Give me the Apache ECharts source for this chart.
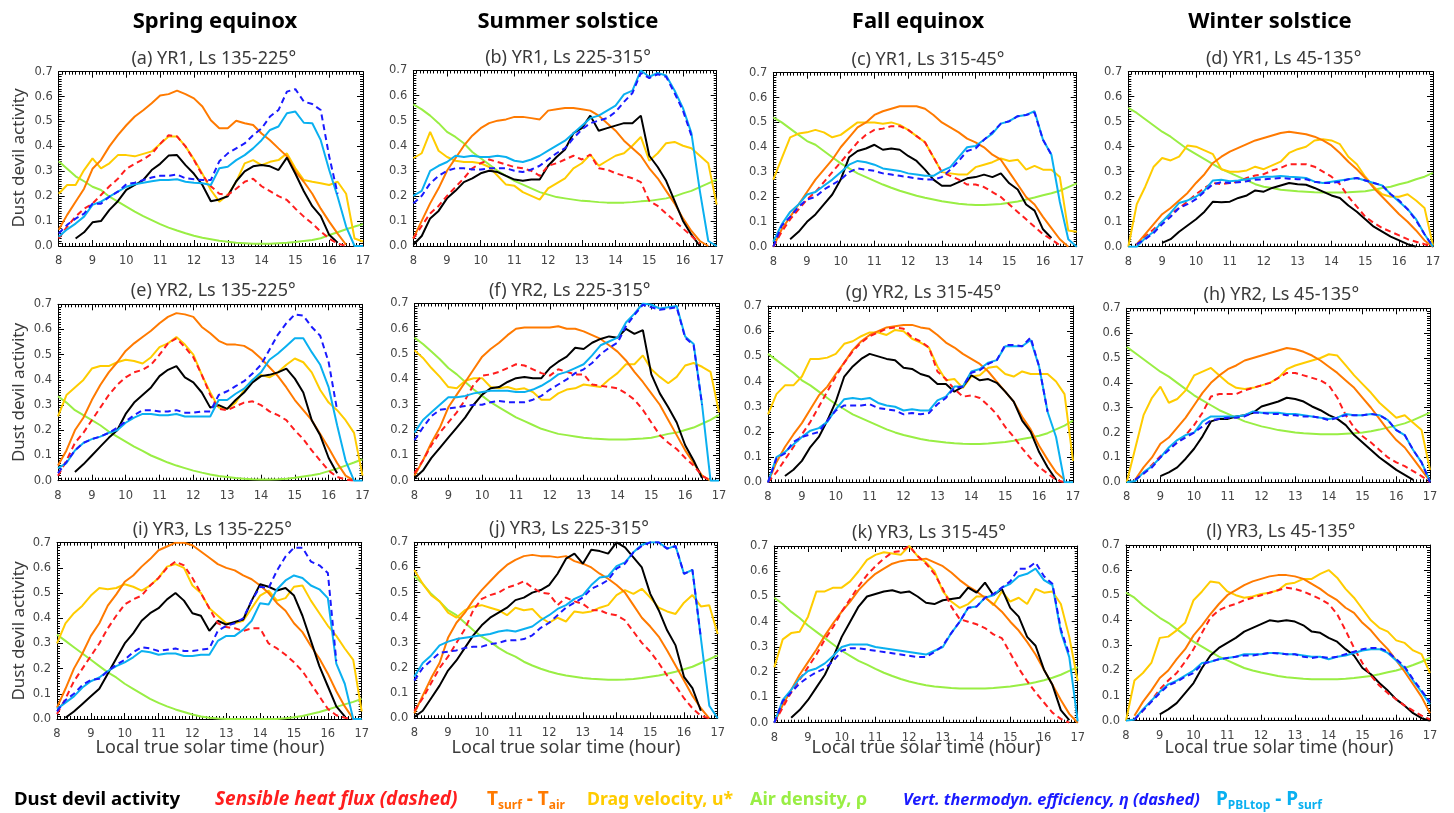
<!DOCTYPE html>
<html><head><meta charset="utf-8">
<script src="https://cdn.jsdelivr.net/npm/echarts@6/dist/echarts.min.js"></script>
<style>html,body{margin:0;padding:0;background:#fff}#c{width:1454px;height:813px}</style>
</head><body><div id="c"></div>
<script>
// ---------------- DATA ----------------
const hours = [8,8.25,8.5,8.75,9,9.25,9.5,9.75,10,10.25,10.5,10.75,11,11.25,11.5,11.75,12,12.25,12.5,12.75,13,13.25,13.5,13.75,14,14.25,14.5,14.75,15,15.25,15.5,15.75,16,16.25,16.5,16.75,17];
const xTicks = [8,9,10,11,12,13,14,15,16,17];
const yTicks = [0.0,0.1,0.2,0.3,0.4,0.5,0.6,0.7];
const columnTitles = ['Spring equinox','Summer solstice','Fall equinox','Winter solstice'];
const panelIds = ['a','b','c','d','e','f','g','h','i','j','k','l'];
const panelTitles = ['(a) YR1, Ls 135-225°','(b) YR1, Ls 225-315°','(c) YR1, Ls 315-45°','(d) YR1, Ls 45-135°',
  '(e) YR2, Ls 135-225°','(f) YR2, Ls 225-315°','(g) YR2, Ls 315-45°','(h) YR2, Ls 45-135°',
  '(i) YR3, Ls 135-225°','(j) YR3, Ls 225-315°','(k) YR3, Ls 315-45°','(l) YR3, Ls 45-135°'];

// panel a
const a_black = [null,null,0.03,0.055, 0.095,0.10,0.145,0.18, 0.225,0.245,0.265,0.305, 0.33,0.363,0.365,0.325, 0.29,0.245,0.18,0.187, 0.20,0.26,0.30,0.32, 0.325,0.32,0.305,0.355, 0.29,0.22,0.16,0.12, 0.045,0.013,null,null, null];
const a_red = [0.03,0.078,0.118,0.15, 0.17,0.205,0.24,0.27, 0.31,0.33,0.348,0.37, 0.41,0.445,0.44,0.40, 0.345,0.285,0.24,0.21, 0.205,0.23,0.258,0.27, 0.24,0.22,0.20,0.185, 0.15,0.118,0.09,0.058, 0.03,0.01,0.0,null, null];
const a_orange = [0.065,0.125,0.178,0.23, 0.31,0.345,0.40,0.445, 0.485,0.52,0.545,0.573, 0.604,0.61,0.624,0.61, 0.593,0.56,0.505,0.473, 0.473,0.503,0.493,0.486, 0.452,0.425,0.392,0.36, 0.30,0.258,0.21,0.15, 0.098,0.05,0.005,null, null];
const a_yellow = [0.21,0.245,0.245,0.305, 0.352,0.312,0.332,0.365, 0.365,0.36,0.37,0.38, 0.41,0.44,0.44,0.40, 0.348,0.29,0.225,0.178, 0.205,0.258,0.332,0.345, 0.325,0.338,0.345,0.372, 0.312,0.265,0.258,0.252, 0.245,0.258,0.21,0.03, 0.018];
const a_green = [0.34,0.31,0.28,0.26, 0.238,0.225,0.198,0.178, 0.158,0.138,0.12,0.104, 0.088,0.074,0.062,0.051, 0.041,0.033,0.027,0.021, 0.017,0.013,0.011,0.009, 0.009,0.009,0.011,0.013, 0.016,0.02,0.024,0.031, 0.044,0.055,0.067,0.078, 0.088];
const a_lblue = [0.037,0.067,0.09,0.118, 0.165,0.178,0.198,0.218, 0.238,0.248,0.254,0.26, 0.265,0.265,0.268,0.258, 0.254,0.252,0.245,0.312, 0.318,0.345,0.365,0.392, 0.425,0.466,0.48,0.533, 0.54,0.495,0.493,0.425, 0.305,0.198,0.078,0.0, 0.0];
const a_blue = [0.05,0.085,0.11,0.13, 0.17,0.17,0.198,0.218, 0.248,0.254,0.265,0.275, 0.282,0.282,0.287,0.272, 0.268,0.265,0.265,0.34, 0.372,0.392,0.412,0.445, 0.472,0.52,0.546,0.62, 0.63,0.58,0.57,0.546, 0.36,0.21,null,null, null];
// panel b
const b_black = [0.005,0.04,0.11,0.14, 0.19,0.22,0.255,0.27, 0.29,0.30,0.295,0.28, 0.265,0.26,0.265,0.265, 0.32,0.355,0.385,0.45, 0.47,0.52,0.46,0.47, 0.48,0.49,0.49,0.52, 0.36,0.315,0.26,0.18, 0.10,0.045,0.0,null, null];
const b_red = [0.03,0.08,0.13,0.16, 0.20,0.235,0.27,0.31, 0.33,0.345,0.335,0.325, 0.315,0.31,0.30,0.28, 0.32,0.33,0.345,0.36, 0.345,0.365,0.31,0.305, 0.29,0.28,0.27,0.255, 0.18,0.16,0.13,0.10, 0.07,0.04,0.01,null, null];
const b_orange = [0.03,0.10,0.17,0.23, 0.30,0.35,0.40,0.44, 0.47,0.49,0.50,0.505, 0.515,0.515,0.51,0.505, 0.54,0.545,0.55,0.55, 0.545,0.54,0.52,0.49, 0.46,0.42,0.39,0.36, 0.31,0.27,0.22,0.17, 0.11,0.06,0.02,0.0, null];
const b_yellow = [0.35,0.37,0.455,0.38, 0.355,0.34,0.335,0.335, 0.33,0.315,0.28,0.245, 0.24,0.215,0.20,0.185, 0.23,0.25,0.27,0.31, 0.33,0.365,0.32,0.34, 0.36,0.37,0.40,0.435, 0.34,0.37,0.41,0.415, 0.40,0.39,0.36,0.33, 0.165];
const b_green = [0.565,0.545,0.52,0.49, 0.455,0.435,0.41,0.375, 0.35,0.325,0.30,0.28, 0.26,0.245,0.23,0.215, 0.205,0.195,0.19,0.185, 0.18,0.178,0.175,0.173, 0.173,0.173,0.175,0.178, 0.18,0.185,0.19,0.198, 0.21,0.22,0.235,0.25, 0.265];
const b_lblue = [0.2,0.22,0.30,0.32, 0.335,0.36,0.355,0.36, 0.355,0.355,0.36,0.355, 0.34,0.335,0.345,0.36, 0.38,0.40,0.42,0.45, 0.48,0.51,0.52,0.54, 0.56,0.605,0.62,0.70, 0.675,0.69,0.68,0.62, 0.55,0.45,0.22,0.02, 0.0];
const b_blue = [0.17,0.2,0.25,0.28, 0.30,0.31,0.31,0.305, 0.305,0.31,0.31,0.31, 0.30,0.295,0.305,0.32, 0.345,0.37,0.39,0.43, 0.465,0.49,0.50,0.51, 0.535,0.575,0.61,0.69, 0.67,0.685,0.675,0.61, 0.54,0.44,null,null, null];
// panel c
const c_black = [null,null,0.03,0.06, 0.10,0.13,0.17,0.21, 0.27,0.36,0.385,0.395, 0.41,0.39,0.395,0.39, 0.365,0.345,0.31,0.27, 0.245,0.245,0.26,0.275, 0.28,0.29,0.28,0.295, 0.255,0.23,0.17,0.145, 0.07,0.035,null,null, null];
const c_red = [0.0,0.06,0.11,0.15, 0.19,0.22,0.26,0.30, 0.34,0.38,0.42,0.45, 0.47,0.475,0.485,0.485, 0.47,0.445,0.42,0.36, 0.30,0.285,0.27,0.25, 0.25,0.24,0.22,0.20, 0.17,0.14,0.11,0.08, 0.05,0.03,0.005,null, null];
const c_orange = [0.0,0.07,0.12,0.17, 0.22,0.27,0.31,0.35, 0.40,0.44,0.48,0.50, 0.53,0.545,0.555,0.565, 0.565,0.565,0.555,0.53, 0.50,0.48,0.46,0.435, 0.42,0.40,0.37,0.35, 0.30,0.25,0.20,0.17, 0.12,0.075,0.03,0.0, null];
const c_yellow = [0.27,0.355,0.44,0.455, 0.46,0.47,0.46,0.44, 0.45,0.475,0.50,0.50, 0.50,0.495,0.50,0.49, 0.47,0.445,0.42,0.36, 0.30,0.295,0.29,0.29, 0.32,0.33,0.34,0.355, 0.345,0.35,0.31,0.325, 0.31,0.31,0.28,0.065, 0.06];
const c_green = [0.52,0.50,0.475,0.45, 0.425,0.41,0.385,0.36, 0.335,0.315,0.295,0.28, 0.265,0.25,0.237,0.225, 0.215,0.205,0.197,0.19, 0.183,0.178,0.173,0.17, 0.168,0.168,0.17,0.172, 0.177,0.182,0.19,0.198, 0.207,0.215,0.225,0.24, 0.255];
const c_lblue = [0.02,0.09,0.14,0.17, 0.21,0.22,0.245,0.27, 0.30,0.33,0.345,0.34, 0.33,0.315,0.31,0.305, 0.295,0.29,0.285,0.285, 0.305,0.32,0.36,0.40, 0.405,0.43,0.455,0.495, 0.505,0.525,0.53,0.545, 0.43,0.37,0.18,0.03, 0.0];
const c_blue = [0.0,0.085,0.12,0.16, 0.19,0.20,0.23,0.25, 0.27,0.30,0.315,0.31, 0.305,0.295,0.29,0.285, 0.28,0.275,0.27,0.27, 0.28,0.31,0.345,0.385, 0.395,0.43,0.46,0.495, 0.505,0.525,0.53,0.54, 0.43,0.37,null,null, null];
// panel d
const d_black = [null,null,null,null, 0.015,0.03,0.06,0.085, 0.11,0.14,0.18,0.178, 0.18,0.195,0.205,0.225, 0.22,0.235,0.245,0.255, 0.25,0.248,0.235,0.22, 0.205,0.195,0.165,0.14, 0.11,0.08,0.06,0.04, 0.025,0.01,0.0,null, null];
const d_red = [null,0.005,0.04,0.07, 0.10,0.13,0.155,0.18, 0.21,0.235,0.255,0.25, 0.255,0.26,0.275,0.285, 0.29,0.305,0.315,0.33, 0.33,0.33,0.32,0.30, 0.28,0.25,0.20,0.16, 0.12,0.095,0.075,0.06, 0.045,0.03,0.02,0.01, 0.0];
const d_orange = [null,0.01,0.05,0.09, 0.13,0.155,0.185,0.215, 0.255,0.29,0.335,0.36, 0.38,0.395,0.41,0.425, 0.435,0.445,0.455,0.46, 0.455,0.45,0.44,0.425, 0.405,0.375,0.34,0.31, 0.275,0.235,0.20,0.165, 0.13,0.10,0.065,0.025, 0.0];
const d_yellow = [0.0,0.17,0.24,0.32, 0.355,0.345,0.36,0.405, 0.40,0.385,0.37,0.31, 0.30,0.30,0.305,0.32, 0.31,0.325,0.34,0.375, 0.39,0.40,0.425,0.43, 0.425,0.41,0.36,0.33, 0.28,0.24,0.21,0.20, 0.20,0.21,0.185,0.155, 0.005];
const d_green = [0.555,0.535,0.51,0.485, 0.46,0.44,0.415,0.39, 0.37,0.35,0.33,0.31, 0.295,0.28,0.265,0.25, 0.24,0.235,0.228,0.225, 0.222,0.22,0.218,0.217, 0.217,0.217,0.218,0.22, 0.222,0.228,0.235,0.24, 0.25,0.258,0.27,0.28, 0.295];
const d_lblue = [0.0,0.0,0.035,0.06, 0.10,0.135,0.175,0.185, 0.20,0.225,0.265,0.268, 0.262,0.265,0.27,0.275, 0.28,0.28,0.283,0.28, 0.278,0.275,0.26,0.255, 0.26,0.265,0.27,0.275, 0.265,0.255,0.245,0.21, 0.18,0.15,0.11,0.05, 0.0];
const d_blue = [null,0.01,0.03,0.055, 0.09,0.12,0.155,0.17, 0.19,0.22,0.25,0.258, 0.255,0.258,0.262,0.268, 0.27,0.272,0.275,0.272, 0.27,0.27,0.26,0.255, 0.255,0.26,0.27,0.275, 0.265,0.255,0.245,0.21, 0.185,0.15,0.105,0.05, 0.0];
// panel e
const e_black = [null,null,0.035,0.065, 0.10,0.135,0.17,0.20, 0.265,0.31,0.34,0.37, 0.415,0.44,0.455,0.41, 0.39,0.35,0.29,0.30, 0.285,0.32,0.35,0.39, 0.415,0.42,0.43,0.445, 0.405,0.35,0.24,0.18, 0.09,0.03,null,null, null];
const e_red = [0.02,0.08,0.15,0.19, 0.24,0.29,0.34,0.38, 0.41,0.43,0.44,0.46, 0.50,0.545,0.565,0.53, 0.49,0.42,0.34,0.285, 0.28,0.295,0.31,0.315, 0.30,0.275,0.26,0.24, 0.20,0.165,0.12,0.08, 0.04,0.015,0.005,0.0, null];
const e_orange = [0.06,0.12,0.20,0.25, 0.32,0.38,0.43,0.47, 0.515,0.545,0.57,0.595, 0.625,0.65,0.665,0.66, 0.65,0.61,0.585,0.555, 0.54,0.54,0.535,0.515, 0.485,0.45,0.415,0.37, 0.32,0.28,0.24,0.185, 0.13,0.07,0.02,0.0, null];
const e_yellow = [0.255,0.34,0.37,0.40, 0.445,0.455,0.455,0.47, 0.48,0.475,0.465,0.49, 0.53,0.545,0.57,0.54, 0.50,0.42,0.35,0.29, 0.285,0.31,0.36,0.40, 0.42,0.41,0.43,0.46, 0.485,0.47,0.43,0.36, 0.31,0.28,0.24,0.19, 0.02];
const e_green = [0.335,0.31,0.28,0.26, 0.24,0.22,0.195,0.175, 0.155,0.135,0.118,0.10, 0.086,0.072,0.06,0.05, 0.04,0.032,0.025,0.019, 0.015,0.011,0.008,0.006, 0.005,0.005,0.006,0.008, 0.012,0.017,0.022,0.028, 0.038,0.048,0.06,0.072, 0.085];
const e_lblue = [0.05,0.07,0.12,0.15, 0.165,0.175,0.19,0.20, 0.23,0.25,0.265,0.265, 0.26,0.26,0.265,0.255, 0.255,0.255,0.255,0.32, 0.32,0.345,0.365,0.40, 0.43,0.48,0.505,0.535, 0.565,0.565,0.51,0.46, 0.37,0.22,0.08,0.0, 0.0];
const e_blue = [0.03,0.075,0.12,0.15, 0.165,0.175,0.19,0.21, 0.235,0.26,0.28,0.28, 0.275,0.275,0.28,0.27, 0.27,0.275,0.275,0.34, 0.355,0.375,0.395,0.425, 0.46,0.52,0.58,0.625, 0.66,0.655,0.61,0.575, 0.47,0.28,null,null, null];
// panel f
const f_black = [0.01,0.04,0.09,0.13, 0.17,0.21,0.25,0.30, 0.34,0.365,0.37,0.39, 0.405,0.41,0.405,0.405, 0.445,0.47,0.49,0.525, 0.52,0.545,0.56,0.57, 0.565,0.60,0.58,0.595, 0.42,0.345,0.29,0.23, 0.14,0.08,0.01,null, null];
const f_red = [0.03,0.08,0.14,0.19, 0.23,0.27,0.32,0.38, 0.415,0.42,0.43,0.445, 0.46,0.455,0.44,0.425, 0.415,0.44,0.43,0.42, 0.42,0.38,0.375,0.37, 0.365,0.345,0.32,0.28, 0.23,0.18,0.15,0.125, 0.09,0.06,0.02,0.0, null];
const f_orange = [0.02,0.08,0.15,0.21, 0.29,0.34,0.39,0.44, 0.49,0.52,0.545,0.575, 0.60,0.605,0.605,0.605, 0.605,0.61,0.60,0.60, 0.59,0.575,0.56,0.535, 0.51,0.475,0.43,0.39, 0.345,0.30,0.24,0.18, 0.12,0.07,0.02,0.0, null];
const f_yellow = [0.515,0.485,0.445,0.41, 0.37,0.365,0.395,0.405, 0.405,0.37,0.365,0.37, 0.36,0.365,0.35,0.32, 0.32,0.345,0.36,0.365, 0.38,0.375,0.37,0.40, 0.425,0.46,0.46,0.495, 0.44,0.41,0.385,0.41, 0.455,0.465,0.45,0.43, 0.27];
const f_green = [0.565,0.54,0.51,0.48, 0.445,0.42,0.39,0.36, 0.335,0.31,0.29,0.27, 0.25,0.235,0.22,0.205, 0.195,0.185,0.18,0.175, 0.17,0.167,0.165,0.163, 0.163,0.163,0.165,0.167, 0.17,0.177,0.185,0.19, 0.20,0.21,0.225,0.24, 0.26];
const f_lblue = [0.19,0.24,0.27,0.30, 0.33,0.33,0.335,0.345, 0.35,0.355,0.355,0.355, 0.35,0.35,0.36,0.375, 0.395,0.42,0.43,0.445, 0.46,0.495,0.535,0.55, 0.565,0.625,0.66,0.70, 0.695,0.68,0.685,0.69, 0.57,0.54,0.30,0.0, 0.0];
const f_blue = [0.16,0.21,0.255,0.28, 0.285,0.29,0.295,0.30, 0.30,0.31,0.315,0.31, 0.31,0.31,0.32,0.335, 0.36,0.38,0.40,0.425, 0.44,0.465,0.50,0.525, 0.545,0.61,0.655,0.695, 0.685,0.675,0.68,0.685, 0.565,0.535,0.30,null, null];
// panel g
const g_black = [null,null,0.025,0.05, 0.085,0.14,0.18,0.245, 0.32,0.42,0.46,0.49, 0.51,0.50,0.49,0.485, 0.455,0.45,0.43,0.42, 0.39,0.39,0.36,0.38, 0.425,0.405,0.41,0.395, 0.36,0.32,0.245,0.20, 0.12,0.06,0.01,null, null];
const g_red = [0.0,0.04,0.09,0.14, 0.19,0.24,0.30,0.36, 0.42,0.475,0.52,0.555, 0.58,0.595,0.61,0.615, 0.61,0.575,0.56,0.535, 0.44,0.41,0.37,0.34, 0.345,0.335,0.305,0.27, 0.22,0.18,0.135,0.095, 0.06,0.035,0.01,0.0, null];
const g_orange = [0.0,0.08,0.14,0.19, 0.235,0.29,0.345,0.38, 0.43,0.475,0.525,0.56, 0.585,0.60,0.615,0.62, 0.625,0.625,0.615,0.61, 0.585,0.555,0.535,0.51, 0.49,0.47,0.44,0.40, 0.36,0.32,0.26,0.21, 0.145,0.09,0.04,0.01, null];
const g_yellow = [0.27,0.35,0.385,0.385, 0.42,0.49,0.49,0.495, 0.51,0.55,0.56,0.58, 0.595,0.595,0.585,0.605, 0.60,0.57,0.555,0.535, 0.46,0.405,0.41,0.375, 0.42,0.425,0.455,0.46, 0.43,0.42,0.44,0.43, 0.43,0.43,0.40,0.35, 0.085];
const g_green = [0.51,0.485,0.46,0.435, 0.405,0.385,0.36,0.335, 0.31,0.29,0.27,0.255, 0.24,0.225,0.21,0.198, 0.188,0.18,0.172,0.166, 0.162,0.158,0.155,0.153, 0.152,0.152,0.154,0.157, 0.16,0.165,0.172,0.178, 0.185,0.195,0.21,0.225, 0.245];
const g_lblue = [0.0,0.10,0.12,0.15, 0.18,0.205,0.215,0.24, 0.29,0.33,0.335,0.33, 0.335,0.315,0.305,0.30, 0.285,0.29,0.285,0.285, 0.325,0.34,0.38,0.38, 0.44,0.45,0.475,0.485, 0.54,0.54,0.54,0.565, 0.46,0.28,0.18,0.0, 0.0];
const g_blue = [0.0,0.095,0.115,0.16, 0.18,0.19,0.20,0.245, 0.285,0.305,0.305,0.305, 0.31,0.295,0.29,0.285, 0.27,0.275,0.27,0.275, 0.31,0.335,0.375,0.38, 0.435,0.445,0.47,0.485, 0.545,0.545,0.54,0.575, 0.46,0.28,null,null, null];
// panel h
const h_black = [null,null,null,null, 0.025,0.04,0.06,0.095, 0.135,0.185,0.245,0.255, 0.255,0.265,0.27,0.28, 0.305,0.315,0.325,0.34, 0.335,0.325,0.305,0.29, 0.27,0.255,0.23,0.19, 0.16,0.13,0.10,0.075, 0.05,0.03,0.01,null, null];
const h_red = [null,0.01,0.035,0.07, 0.105,0.135,0.16,0.19, 0.23,0.28,0.345,0.355, 0.355,0.355,0.37,0.38, 0.39,0.40,0.42,0.44, 0.44,0.43,0.42,0.41, 0.39,0.34,0.27,0.22, 0.185,0.16,0.13,0.10, 0.08,0.065,0.045,0.025, 0.0];
const h_orange = [null,0.01,0.06,0.10, 0.155,0.18,0.22,0.26, 0.31,0.36,0.40,0.43, 0.455,0.47,0.49,0.50, 0.51,0.52,0.53,0.54, 0.535,0.525,0.51,0.49, 0.465,0.44,0.41,0.38, 0.34,0.30,0.255,0.21, 0.17,0.14,0.095,0.05, 0.005];
const h_yellow = [0.0,0.135,0.27,0.34, 0.385,0.32,0.335,0.37, 0.43,0.445,0.46,0.43, 0.40,0.38,0.375,0.38, 0.39,0.40,0.42,0.455, 0.47,0.48,0.49,0.50, 0.515,0.51,0.47,0.43, 0.395,0.36,0.32,0.29, 0.26,0.27,0.24,0.21, 0.05];
const h_green = [0.545,0.52,0.495,0.47, 0.445,0.425,0.40,0.375, 0.35,0.33,0.31,0.29, 0.275,0.26,0.245,0.235, 0.225,0.218,0.21,0.205, 0.20,0.197,0.195,0.193, 0.193,0.193,0.195,0.197, 0.20,0.205,0.212,0.22, 0.228,0.237,0.25,0.265, 0.28];
const h_lblue = [0.0,0.005,0.04,0.065, 0.10,0.14,0.17,0.19, 0.20,0.245,0.265,0.265, 0.265,0.265,0.27,0.285, 0.28,0.28,0.28,0.275, 0.275,0.27,0.265,0.26, 0.255,0.26,0.275,0.27, 0.27,0.275,0.27,0.25, 0.21,0.19,0.13,0.08, 0.005];
const h_blue = [null,0.01,0.035,0.06, 0.10,0.13,0.16,0.18, 0.20,0.225,0.25,0.255, 0.26,0.26,0.265,0.28, 0.28,0.275,0.275,0.27, 0.27,0.265,0.265,0.26, 0.25,0.26,0.27,0.27, 0.27,0.275,0.27,0.25, 0.21,0.19,0.13,0.08, 0.0];
// panel i
const i_black = [null,0.005,0.03,0.06, 0.09,0.12,0.18,0.24, 0.30,0.34,0.39,0.42, 0.44,0.475,0.50,0.47, 0.42,0.41,0.35,0.39, 0.375,0.385,0.395,0.47, 0.535,0.525,0.51,0.52, 0.49,0.41,0.31,0.21, 0.13,0.05,0.01,null, null];
const i_red = [0.02,0.08,0.15,0.20, 0.25,0.30,0.36,0.41, 0.455,0.475,0.49,0.53, 0.56,0.60,0.625,0.61, 0.56,0.50,0.44,0.38, 0.365,0.36,0.35,0.36, 0.36,0.30,0.28,0.255, 0.225,0.19,0.14,0.09, 0.04,0.015,0.005,0.0, null];
const i_orange = [0.045,0.12,0.20,0.26, 0.33,0.38,0.45,0.495, 0.545,0.57,0.605,0.635, 0.67,0.685,0.70,0.70, 0.69,0.665,0.64,0.615, 0.60,0.59,0.57,0.555, 0.53,0.50,0.46,0.43, 0.38,0.345,0.29,0.24, 0.18,0.11,0.05,0.0, null];
const i_yellow = [0.30,0.38,0.42,0.45, 0.49,0.52,0.515,0.52, 0.535,0.525,0.51,0.53, 0.56,0.605,0.615,0.60, 0.53,0.50,0.44,0.41, 0.38,0.38,0.39,0.44, 0.49,0.51,0.47,0.48, 0.525,0.53,0.47,0.42, 0.37,0.33,0.28,0.235, 0.03];
const i_green = [0.335,0.31,0.285,0.26, 0.235,0.21,0.185,0.165, 0.14,0.12,0.10,0.08, 0.064,0.05,0.038,0.028, 0.018,0.01,0.005,0.002, 0.0,0.0,0.0,0.0, 0.0,0.0,0.0,0.003, 0.007,0.012,0.02,0.028, 0.038,0.048,0.058,0.068, 0.08];
const i_lblue = [0.04,0.065,0.09,0.125, 0.15,0.165,0.19,0.21, 0.225,0.245,0.27,0.265, 0.255,0.26,0.26,0.25, 0.25,0.255,0.255,0.31, 0.33,0.33,0.355,0.39, 0.46,0.455,0.515,0.55, 0.57,0.56,0.53,0.515, 0.48,0.22,0.14,0.0, 0.0];
const i_blue = [0.03,0.075,0.10,0.135, 0.155,0.16,0.19,0.215, 0.235,0.265,0.285,0.28, 0.27,0.275,0.28,0.27, 0.27,0.275,0.28,0.35, 0.37,0.38,0.40,0.47, 0.525,0.52,0.59,0.645, 0.68,0.68,0.625,0.61, 0.58,0.23,null,null, null];
// panel j
const j_black = [0.005,0.03,0.08,0.13, 0.19,0.23,0.28,0.33, 0.37,0.40,0.42,0.44, 0.47,0.48,0.50,0.51, 0.53,0.575,0.635,0.655, 0.615,0.67,0.665,0.655, 0.70,0.68,0.64,0.60, 0.495,0.43,0.35,0.29, 0.165,0.12,0.03,null, null];
const j_red = [0.03,0.08,0.14,0.20, 0.245,0.30,0.355,0.43, 0.475,0.49,0.50,0.52, 0.53,0.545,0.52,0.50, 0.495,0.45,0.48,0.465, 0.455,0.43,0.43,0.415, 0.41,0.39,0.345,0.30, 0.265,0.22,0.17,0.13, 0.08,0.04,0.01,0.0, null];
const j_orange = [0.02,0.09,0.16,0.22, 0.32,0.38,0.42,0.47, 0.51,0.545,0.58,0.61, 0.63,0.645,0.65,0.645, 0.645,0.64,0.645,0.625, 0.615,0.60,0.575,0.555, 0.53,0.50,0.45,0.40, 0.365,0.325,0.27,0.21, 0.15,0.09,0.04,0.0, null];
const j_yellow = [0.59,0.535,0.49,0.465, 0.42,0.40,0.43,0.445, 0.45,0.44,0.43,0.41, 0.44,0.43,0.435,0.40, 0.38,0.40,0.385,0.425, 0.42,0.425,0.44,0.45, 0.49,0.51,0.495,0.515, 0.48,0.44,0.425,0.415, 0.46,0.49,0.445,0.45, 0.335];
const j_green = [0.565,0.535,0.495,0.465, 0.43,0.41,0.38,0.35, 0.325,0.305,0.28,0.26, 0.245,0.225,0.21,0.197, 0.186,0.177,0.17,0.165, 0.16,0.157,0.155,0.153, 0.153,0.154,0.156,0.16, 0.165,0.17,0.177,0.185, 0.195,0.205,0.22,0.235, 0.25];
const j_lblue = [0.165,0.22,0.25,0.29, 0.305,0.315,0.32,0.325, 0.33,0.335,0.345,0.35, 0.345,0.355,0.365,0.39, 0.41,0.435,0.45,0.475, 0.49,0.53,0.56,0.565, 0.605,0.62,0.66,0.69, 0.70,0.70,0.675,0.685, 0.575,0.59,0.32,0.05, 0.0];
const j_blue = [0.15,0.2,0.23,0.26, 0.265,0.27,0.28,0.285, 0.285,0.295,0.30,0.31, 0.31,0.315,0.33,0.36, 0.38,0.41,0.44,0.46, 0.48,0.515,0.53,0.55, 0.595,0.615,0.66,0.685, 0.70,0.70,0.675,0.685, 0.575,0.59,0.32,null, null];
// panel k
const k_black = [null,null,0.02,0.05, 0.09,0.14,0.19,0.26, 0.34,0.40,0.46,0.50, 0.51,0.52,0.525,0.515, 0.52,0.50,0.475,0.47, 0.485,0.49,0.495,0.535, 0.515,0.555,0.505,0.53, 0.455,0.42,0.34,0.305, 0.21,0.15,0.05,0.01, null];
const k_red = [0.0,0.06,0.12,0.17, 0.22,0.27,0.33,0.38, 0.44,0.49,0.54,0.585, 0.62,0.65,0.675,0.68, 0.70,0.66,0.63,0.59, 0.53,0.46,0.41,0.40, 0.39,0.375,0.35,0.335, 0.275,0.215,0.165,0.12, 0.08,0.04,0.015,0.0, null];
const k_orange = [0.0,0.07,0.13,0.19, 0.24,0.29,0.345,0.395, 0.44,0.48,0.525,0.56, 0.59,0.61,0.63,0.64, 0.645,0.645,0.65,0.635, 0.62,0.595,0.565,0.54, 0.52,0.495,0.47,0.44, 0.40,0.365,0.32,0.27, 0.21,0.15,0.09,0.035, 0.0];
const k_yellow = [0.22,0.33,0.355,0.36, 0.42,0.52,0.52,0.535, 0.535,0.56,0.60,0.645, 0.665,0.675,0.67,0.665, 0.70,0.66,0.635,0.60, 0.52,0.48,0.455,0.47, 0.50,0.50,0.465,0.52, 0.48,0.495,0.47,0.53, 0.515,0.52,0.47,0.34, 0.165];
const k_green = [0.495,0.47,0.44,0.415, 0.385,0.36,0.335,0.31, 0.285,0.265,0.245,0.23, 0.213,0.198,0.185,0.173, 0.163,0.155,0.148,0.143, 0.14,0.137,0.135,0.135, 0.135,0.135,0.137,0.14, 0.143,0.148,0.153,0.16, 0.168,0.178,0.19,0.205, 0.22];
const k_lblue = [0.0,0.09,0.13,0.175, 0.205,0.215,0.235,0.265, 0.30,0.31,0.31,0.31, 0.30,0.295,0.29,0.285, 0.28,0.275,0.27,0.285, 0.30,0.355,0.40,0.455, 0.46,0.495,0.505,0.535, 0.55,0.58,0.59,0.61, 0.565,0.545,0.36,0.26, 0.005];
const k_blue = [0.0,0.085,0.12,0.155, 0.18,0.20,0.215,0.245, 0.285,0.295,0.295,0.29, 0.285,0.28,0.275,0.27, 0.265,0.26,0.26,0.28, 0.305,0.355,0.40,0.455, 0.46,0.495,0.51,0.535, 0.56,0.61,0.61,0.635, 0.58,0.55,0.37,0.27, null];
// panel l
const l_black = [null,null,null,null, 0.025,0.045,0.07,0.11, 0.15,0.21,0.26,0.29, 0.31,0.33,0.355,0.37, 0.385,0.40,0.395,0.40, 0.395,0.38,0.355,0.35, 0.33,0.315,0.285,0.26, 0.21,0.185,0.15,0.12, 0.085,0.06,0.03,0.01, 0.0];
const l_red = [null,0.005,0.04,0.08, 0.125,0.16,0.19,0.235, 0.285,0.35,0.41,0.44, 0.455,0.465,0.48,0.49, 0.50,0.51,0.52,0.53, 0.525,0.515,0.50,0.485, 0.465,0.425,0.36,0.29, 0.23,0.18,0.14,0.11, 0.085,0.06,0.04,0.02, 0.005];
const l_orange = [null,0.02,0.075,0.12, 0.17,0.20,0.245,0.285, 0.34,0.38,0.425,0.465, 0.50,0.52,0.54,0.555, 0.565,0.575,0.58,0.58, 0.575,0.565,0.545,0.525, 0.50,0.48,0.45,0.43, 0.39,0.36,0.32,0.285, 0.24,0.195,0.145,0.095, 0.03];
const l_yellow = [0.0,0.16,0.19,0.23, 0.33,0.335,0.36,0.39, 0.48,0.515,0.555,0.55, 0.515,0.50,0.49,0.495, 0.505,0.51,0.52,0.545, 0.55,0.565,0.565,0.585, 0.60,0.57,0.525,0.49, 0.445,0.40,0.37,0.355, 0.32,0.31,0.28,0.265, 0.19];
const l_green = [0.51,0.49,0.46,0.435, 0.41,0.39,0.365,0.34, 0.315,0.295,0.275,0.255, 0.24,0.225,0.21,0.2, 0.192,0.185,0.178,0.173, 0.17,0.167,0.165,0.165, 0.165,0.165,0.167,0.17, 0.174,0.178,0.185,0.193, 0.2,0.21,0.222,0.235, 0.25];
const l_lblue = [0.0,0.005,0.045,0.08, 0.115,0.145,0.16,0.18, 0.20,0.23,0.235,0.245, 0.25,0.255,0.265,0.265, 0.265,0.27,0.27,0.265, 0.265,0.26,0.255,0.255, 0.245,0.255,0.26,0.27, 0.28,0.285,0.285,0.27, 0.24,0.21,0.16,0.115, 0.065];
const l_blue = [null,0.005,0.04,0.075, 0.11,0.14,0.155,0.175, 0.19,0.225,0.235,0.245, 0.25,0.255,0.26,0.26, 0.265,0.27,0.268,0.265, 0.265,0.255,0.25,0.255, 0.25,0.255,0.265,0.275, 0.285,0.29,0.29,0.275, 0.245,0.215,0.165,0.12, 0.075];

const SERIES = {a_black,a_red,a_orange,a_yellow,a_green,a_lblue,a_blue,
 b_black,b_red,b_orange,b_yellow,b_green,b_lblue,b_blue,
 c_black,c_red,c_orange,c_yellow,c_green,c_lblue,c_blue,
 d_black,d_red,d_orange,d_yellow,d_green,d_lblue,d_blue,
 e_black,e_red,e_orange,e_yellow,e_green,e_lblue,e_blue,
 f_black,f_red,f_orange,f_yellow,f_green,f_lblue,f_blue,
 g_black,g_red,g_orange,g_yellow,g_green,g_lblue,g_blue,
 h_black,h_red,h_orange,h_yellow,h_green,h_lblue,h_blue,
 i_black,i_red,i_orange,i_yellow,i_green,i_lblue,i_blue,
 j_black,j_red,j_orange,j_yellow,j_green,j_lblue,j_blue,
 k_black,k_red,k_orange,k_yellow,k_green,k_lblue,k_blue,
 l_black,l_red,l_orange,l_yellow,l_green,l_lblue,l_blue};

// ---------------- STYLE / LAYOUT ----------------
const STY = {
  black:{color:'#000000', dash:false},
  orange:{color:'#FF7A00', dash:false},
  yellow:{color:'#FFCC00', dash:false},
  red:{color:'#FF1E1E', dash:true},
  green:{color:'#99EE44', dash:false},
  lblue:{color:'#0AB0F0', dash:false},
  blue:{color:'#1A1AFF', dash:true}
};
const DRAW_ORDER = ['green','yellow','orange','black','red','lblue','blue'];
// [left(8h), right(17h), top(0.7), bottom(0)]
const RECTS = [
 [58.7,363,71.7,246],[413.3,716.7,70.5,246],[773.3,1076.7,72.7,246.7],[1128.3,1433,71.7,246.7],
 [58,362.5,304.3,480.7],[414.5,719,303.5,480.7],[768,1073,306,482.3],[1126.7,1430,308.3,482.3],
 [57,361.7,542.7,719],[414.3,717.7,542.3,718.3],[774.3,1077.7,546,722.7],[1126,1430,545,720.7]
];
const FONT = 'Noto Sans, DejaVu Sans, sans-serif';
const TICKFONT = 'DejaVu Sans, Noto Sans, sans-serif';

const grids=[], xAxes=[], yAxes=[], series=[], graphics=[];

panelIds.forEach((id,p)=>{
  const [L,R,T,B] = RECTS[p];
  grids.push({left:L, top:T, width:R-L, height:B-T, containLabel:false, outerBoundsMode:'none', show:false});
  const tick = {show:true, inside:true, length:6, lineStyle:{color:'#000', width:1}};
  const minor = {show:true, splitNumber:10, length:3, lineStyle:{color:'#000', width:1}};
  const line = {show:true, onZero:false, lineStyle:{color:'#000', width:1}};
  const base = {type:'value', gridIndex:p, splitLine:{show:false}, minorSplitLine:{show:false}, axisLine:line, axisTick:tick, minorTick:minor, silent:true};
  xAxes.push(Object.assign({}, base, {position:'bottom', min:xTicks[0], max:xTicks[xTicks.length-1], interval:1,
     axisLabel:{show:true, color:'#454545', fontSize:11.5, fontFamily:TICKFONT, margin:9, showMinLabel:true, showMaxLabel:true}}));
  xAxes.push(Object.assign({}, base, {position:'top', min:xTicks[0], max:xTicks[xTicks.length-1], interval:1, axisLabel:{show:false}}));
  yAxes.push(Object.assign({}, base, {position:'left', min:yTicks[0], max:yTicks[yTicks.length-1], interval:0.1,
     axisLabel:{show:true, color:'#454545', fontSize:11.5, fontFamily:TICKFONT, margin:6, formatter:v=>v.toFixed(1), showMinLabel:true, showMaxLabel:true}}));
  yAxes.push(Object.assign({}, base, {position:'right', min:yTicks[0], max:yTicks[yTicks.length-1], interval:0.1, axisLabel:{show:false}}));

  DRAW_ORDER.forEach(key=>{
    const vals = SERIES[id+'_'+key];
    const data = [];
    hours.forEach((h,i)=>{ if(vals[i]!==null && vals[i]!==undefined) data.push([h, vals[i]]); });
    const st = STY[key];
    series.push({type:'line', xAxisIndex:p*2, yAxisIndex:p*2, data, showSymbol:false, symbol:'none',
      lineStyle:{color:st.color, width:2, type: st.dash ? [6,4] : 'solid'}, itemStyle:{color:st.color},
      animation:false, silent:true, clip:true, z:2});
  });

  graphics.push({type:'text', x:(L+R)/2+3, y:T-13, style:{text:panelTitles[p], font:'18px '+FONT, fill:'#3a3a3a', align:'center', verticalAlign:'middle'}});
});

// column titles
const colCenters = [215,568,918,1270];
columnTitles.forEach((t,c)=>graphics.push({type:'text', x:colCenters[c], y:22, style:{text:t, font:'bold 22px '+FONT, fill:'#000', align:'center', verticalAlign:'middle'}}));
// y-axis names (first column)
[158,392.5,631].forEach(cy=>graphics.push({type:'text', x:19, y:cy, rotation:Math.PI/2, style:{text:'Dust devil activity', font:'17px '+FONT, fill:'#3a3a3a', align:'center', verticalAlign:'middle'}}));
// x-axis names (bottom row)
[210,566,926,1279].forEach(cx=>graphics.push({type:'text', x:cx, y:748, style:{text:'Local true solar time (hour)', font:'18px '+FONT, fill:'#3a3a3a', align:'center', verticalAlign:'middle'}}));

// legend: each entry fitted into its horizontal span
const LEG_Y = 800;
const measureCtx = document.createElement('canvas').getContext('2d');
function fitSize(font, text, target, base){ measureCtx.font = font.replace('{s}', base+'px'); const w = measureCtx.measureText(text).width; return Math.min(base, base*target/w); }
const legendItems = [
  {x0:14, x1:180, text:'Dust devil activity', color:'#000000', italic:false},
  {x0:215, x1:462, text:'Sensible heat flux (dashed)', color:'#FF1E1E', italic:true},
  {x0:487, x1:573, rich:['T','surf',' - T','air'], color:'#FF7A00'},
  {x0:587, x1:733, text:'Drag velocity, u*', color:'#FFCC00', italic:false},
  {x0:750, x1:867, text:'Air density, ρ', color:'#99EE44', italic:false},
  {x0:903, x1:1200, text:'Vert. thermodyn. efficiency, η (dashed)', color:'#1A1AFF', italic:true},
  {x0:1216, x1:1340, rich:['P','PBLtop',' - P','surf'], color:'#0AB0F0'}
];
legendItems.forEach(it=>{
  if(it.rich){
    measureCtx.font = 'bold 19px '+FONT; const wm = measureCtx.measureText(it.rich[0]+it.rich[2]).width;
    measureCtx.font = 'bold 12px '+FONT; const ws = measureCtx.measureText(it.rich[1]+it.rich[3]).width;
    const k = Math.min(1, (it.x1-it.x0)/(wm+ws));
    const txt = '{m|'+it.rich[0]+'}{s|'+it.rich[1]+'}{m|'+it.rich[2]+'}{s|'+it.rich[3]+'}';
    graphics.push({type:'text', x:it.x0, y:LEG_Y, style:{text:txt, align:'left', verticalAlign:'middle',
      rich:{m:{fontSize:19*k, fontWeight:'bold', fontFamily:FONT, fill:it.color, lineHeight:24, verticalAlign:'middle'},
            s:{fontSize:12*k, fontWeight:'bold', fontFamily:FONT, fill:it.color, lineHeight:24, verticalAlign:'bottom'}}}});
  } else {
    const fam = (it.italic?'italic ':'')+'bold {s} '+FONT;
    const size = fitSize(fam, it.text, it.x1-it.x0, 19);
    graphics.push({type:'text', x:it.x0, y:LEG_Y, style:{text:it.text, font:fam.replace('{s}', size.toFixed(1)+'px'), fill:it.color, align:'left', verticalAlign:'middle'}});
  }
});

const chart = echarts.init(document.getElementById('c'), null, {renderer:'canvas'});
chart.setOption({backgroundColor:'#ffffff', animation:false, grid:grids, xAxis:xAxes, yAxis:yAxes, series, graphic:{elements:graphics}});
</script>
</body></html>
